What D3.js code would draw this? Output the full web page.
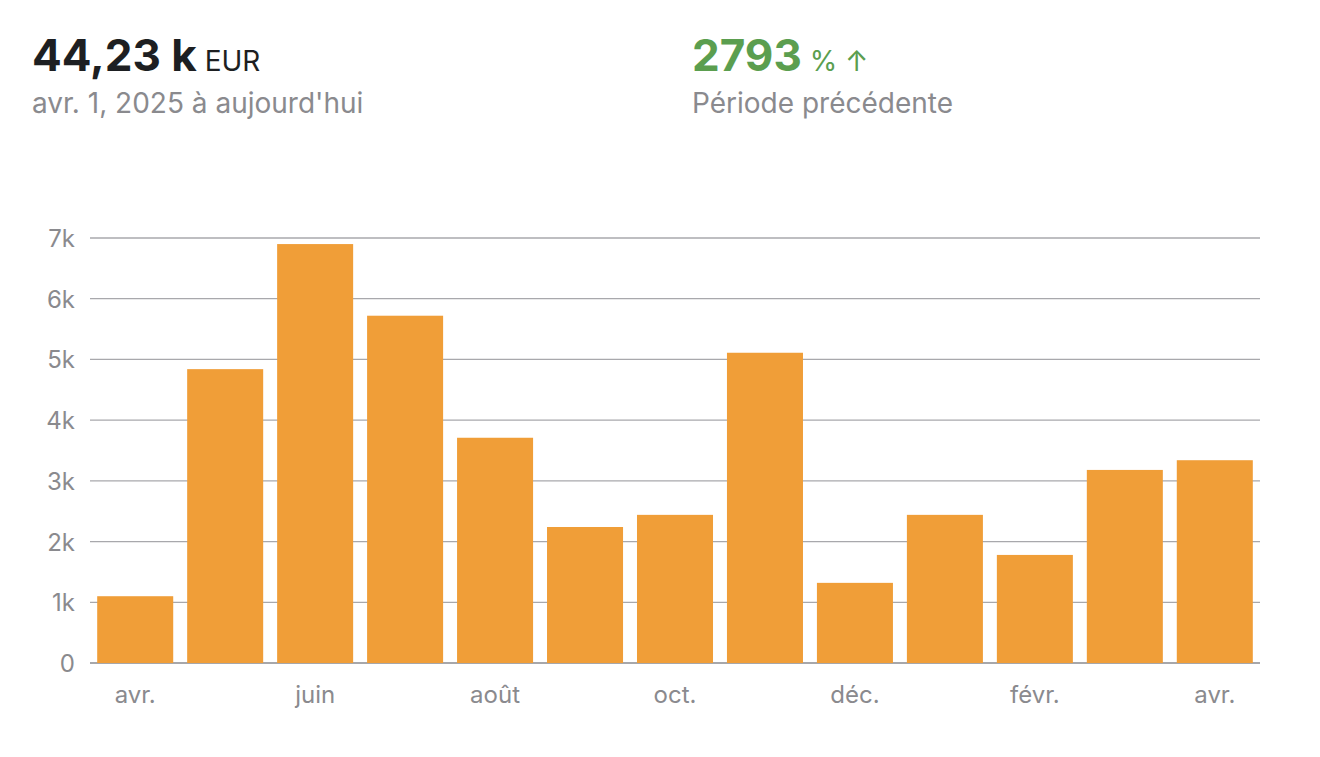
<!DOCTYPE html>
<html><head><meta charset="utf-8">
<script src="https://cdn.jsdelivr.net/npm/d3@7"></script>
<style>body{margin:0;background:#fff;font-family:Inter,"Noto Sans",sans-serif}</style>
</head><body><svg id="c" width="1320" height="757"></svg>
<script>
const months = ["avr.","mai","juin","juil.","août","sept.","oct.","nov.","déc.","janv.","févr.","mars","avr."]
const values = [1100,4840,6900,5720,3710,2240,2440,5110,1320,2440,1780,3180,3340]
const yTicks = [0,1000,2000,3000,4000,5000,6000,7000]
const yTickLabels = ["0","1k","2k","3k","4k","5k","6k","7k"]

const svg = d3.select("#c")
const x = d3.scaleBand().domain(d3.range(months.length)).range([90,1260]).paddingInner(0.155).paddingOuter(0.08)
const y = d3.scaleLinear().domain([0,7000]).range([663,238])

// header
const h = svg.append("text").attr("x",32).attr("y",71)
h.append("tspan").text("44,23 k").attr("font-size",44).attr("font-weight",700).attr("fill","#1d1f22")
h.append("tspan").text(" EUR").attr("font-size",28).attr("fill","#1d1f22")
svg.append("text").attr("x",32).attr("y",113).text("avr. 1, 2025 à aujourd'hui").attr("font-size",28).attr("fill","#8a8a8e")
const g2 = svg.append("text").attr("x",692).attr("y",71).attr("fill","#5b9e4f")
g2.append("tspan").text("2793").attr("font-size",44).attr("font-weight",700)
g2.append("tspan").text(" % ↑").attr("font-size",28)
svg.append("text").attr("x",692).attr("y",113).text("Période précédente").attr("font-size",28).attr("fill","#8a8a8e")

// grid
svg.append("g").selectAll("line").data(yTicks).join("line")
  .attr("x1",90).attr("x2",1260).attr("y1",d=>y(d)).attr("y2",d=>y(d))
  .attr("stroke",d=>d===0?"#8a8a8e":"#a8a8ac").attr("stroke-width",1.3)
svg.append("g").selectAll("text").data(yTicks).join("text")
  .attr("x",75).attr("y",d=>y(d)+9).attr("text-anchor","end")
  .attr("font-size",24).attr("fill","#8a8a8e").text((d,i)=>yTickLabels[i])

// bars
svg.append("g").selectAll("rect").data(values).join("rect")
  .attr("x",(d,i)=>x(i)).attr("width",x.bandwidth())
  .attr("y",d=>y(d)).attr("height",d=>y(0)-y(d)).attr("fill","#f09e38")

// x labels every other month
svg.append("g").selectAll("text").data(months.map((m,i)=>({m,i})).filter(d=>d.i%2===0)).join("text")
  .attr("x",d=>x(d.i)+x.bandwidth()/2).attr("y",703).attr("text-anchor","middle")
  .attr("font-size",24).attr("fill","#8a8a8e").text(d=>d.m)
</script></body></html>
